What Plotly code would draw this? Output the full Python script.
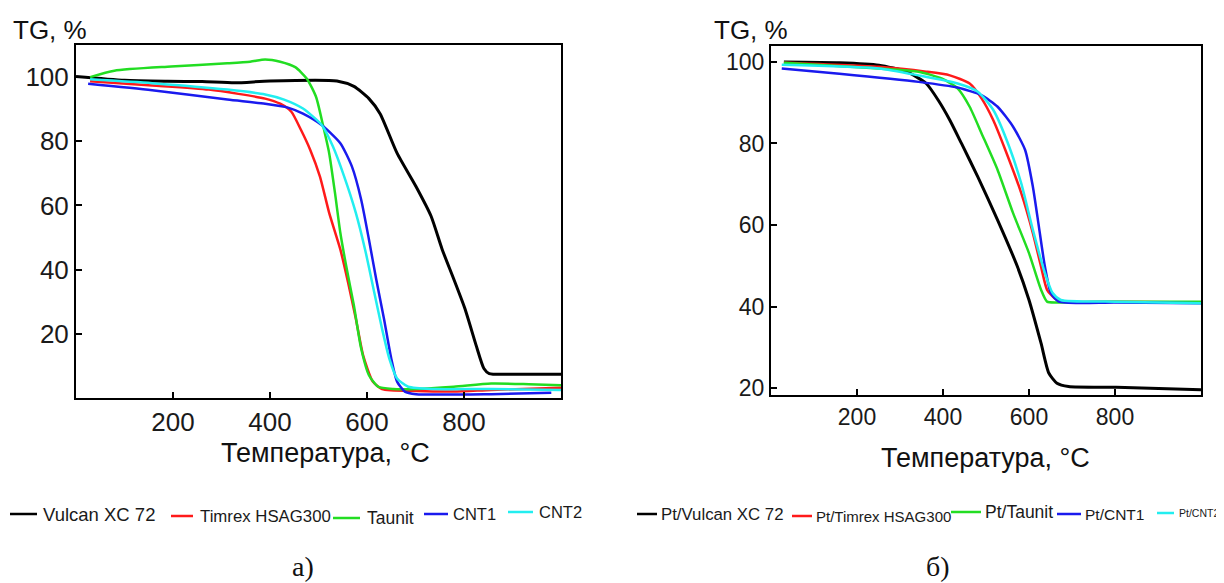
import plotly.graph_objects as go

# ---- panel a): supports ----
t_vulcan = [0, 100, 188, 260, 328, 400, 538, 573, 604, 627, 662, 701, 732, 755, 779, 802, 825, 841, 852, 900, 1000]
tg_vulcan = [100.2, 99.0, 98.7, 98.6, 98.2, 98.8, 98.8, 97.1, 93.3, 88.6, 76.3, 65.9, 56.7, 46.3, 37.0, 27.8, 16.4, 9.2, 7.6, 7.4, 7.4]

t_timrex = [29, 157, 274, 390, 421, 444, 464, 483, 503, 522, 545, 561, 577, 592, 612, 631, 701, 779, 856, 1000]
tg_timrex = [98.7, 97.4, 96.1, 93.3, 91.7, 89.2, 83.5, 77.3, 69.0, 57.7, 46.3, 36.0, 24.7, 13.3, 5.1, 2.8, 2.2, 2.0, 2.5, 3.2]

t_taunit = [29, 79, 196, 312, 359, 390, 421, 452, 476, 495, 510, 522, 534, 545, 557, 573, 588, 604, 623, 654, 701, 779, 856, 934, 1000]
tg_taunit = [100.0, 102.0, 103.3, 104.3, 104.8, 105.5, 104.8, 103.1, 99.5, 93.8, 84.5, 76.3, 63.9, 51.5, 41.2, 28.8, 15.4, 7.1, 3.5, 2.8, 2.8, 3.5, 4.5, 4.3, 4.0]

t_cnt1 = [25, 157, 312, 390, 437, 468, 507, 545, 569, 588, 604, 619, 635, 650, 662, 678, 701, 856, 980]
tg_cnt1 = [97.9, 95.9, 93.0, 91.7, 90.5, 88.6, 85.0, 79.4, 72.1, 61.8, 49.4, 37.0, 24.7, 12.3, 5.1, 2.0, 1.2, 1.2, 1.6]

t_cnt2 = [29, 157, 312, 390, 429, 468, 507, 530, 553, 577, 596, 615, 631, 646, 662, 685, 740, 856, 1000]
tg_cnt2 = [99.3, 98.1, 96.1, 94.6, 93.0, 90.2, 85.0, 78.3, 69.0, 57.7, 46.3, 32.9, 21.6, 12.3, 6.1, 3.5, 2.8, 2.8, 2.5]

# ---- panel б): Pt catalysts ----
t_pt_vulcan = [30, 159, 251, 315, 361, 389, 416, 443, 481, 527, 573, 600, 628, 646, 665, 692, 803, 1000]
tg_pt_vulcan = [100.0, 99.8, 99.2, 97.6, 94.7, 90.6, 85.7, 80.0, 71.8, 61.2, 49.8, 41.6, 31.0, 23.7, 21.2, 20.4, 20.2, 19.6]

t_pt_timrex = [30, 251, 361, 416, 462, 490, 517, 545, 582, 609, 628, 642, 660, 683, 800, 1000]
tg_pt_timrex = [99.8, 98.8, 97.6, 96.7, 94.7, 91.0, 85.7, 78.4, 67.8, 58.0, 49.8, 44.1, 42.0, 41.2, 41.2, 41.0]

t_pt_taunit = [30, 251, 343, 398, 434, 462, 490, 527, 563, 600, 628, 642, 665, 800, 1000]
tg_pt_taunit = [99.8, 98.4, 97.6, 95.9, 93.5, 89.0, 82.4, 73.5, 62.9, 53.1, 44.1, 41.2, 41.0, 41.2, 41.2]

t_pt_cnt1 = [25, 159, 343, 434, 490, 527, 563, 591, 609, 623, 637, 651, 669, 800, 1000]
tg_pt_cnt1 = [98.4, 97.1, 95.1, 93.7, 91.8, 89.0, 84.1, 78.4, 69.4, 59.6, 49.8, 43.3, 41.2, 41.0, 40.8]

t_pt_cnt2 = [25, 251, 343, 434, 481, 517, 554, 582, 609, 637, 655, 674, 800, 1000]
tg_pt_cnt2 = [99.3, 98.4, 96.7, 94.7, 92.7, 88.2, 79.2, 70.2, 58.8, 48.2, 43.3, 41.6, 41.2, 40.8]

names_a = ['Vulcan XC 72', 'Timrex HSAG300', 'Taunit', 'CNT1', 'CNT2']
names_b = ['Pt/Vulcan XC 72', 'Pt/Timrex HSAG300', 'Pt/Taunit', 'Pt/CNT1', 'Pt/CNT2']

x_ticks = [200, 400, 600, 800]
y_ticks = [20, 40, 60, 80, 100]

colors = ['#000000', '#ff1a1a', '#22dd22', '#1a1aee', '#22eef0']

# the page body has an 8px margin, so the figure is drawn 8px in from the top-left corner
OFF = 8
W, H = 1224 - OFF, 583 - OFF


def fx(px):
    return (px - OFF) / W


def fy(py):
    return 1 - (py - OFF) / H


fig = go.Figure()

series_a = [(t_vulcan, tg_vulcan), (t_timrex, tg_timrex), (t_taunit, tg_taunit), (t_cnt1, tg_cnt1), (t_cnt2, tg_cnt2)]
series_b = [(t_pt_vulcan, tg_pt_vulcan), (t_pt_timrex, tg_pt_timrex), (t_pt_taunit, tg_pt_taunit),
            (t_pt_cnt1, tg_pt_cnt1), (t_pt_cnt2, tg_pt_cnt2)]

for i, (x, y) in enumerate(series_a):
    fig.add_trace(go.Scatter(x=x, y=y, name=names_a[i], mode='lines', xaxis='x', yaxis='y', showlegend=False,
                             line=dict(color=colors[i], width=3 if i == 0 else 2.5, shape='spline', smoothing=0.6)))
for i, (x, y) in enumerate(series_b):
    fig.add_trace(go.Scatter(x=x, y=y, name=names_b[i], mode='lines', xaxis='x2', yaxis='y2', showlegend=False,
                             line=dict(color=colors[i], width=3 if i == 0 else 2.5, shape='spline', smoothing=0.6)))


def axis(size, **kw):
    return dict(showline=True, linecolor='black', linewidth=2, mirror=True,
                ticks='inside', ticklen=6, tickwidth=1.5, tickcolor='black',
                showgrid=False, zeroline=False,
                tickfont=dict(family='Liberation Sans', size=size, color='#1a1a1a'), **kw)


fig.update_layout(
    width=W, height=H,
    margin=dict(l=0, r=0, t=0, b=0, autoexpand=False),
    paper_bgcolor='white', plot_bgcolor='white',
    font=dict(family='Liberation Sans', color='#1a1a1a'),
    xaxis=axis(26, domain=[fx(76), fx(561)], range=[0, 1000], tickvals=x_ticks, anchor='y'),
    yaxis=axis(26, domain=[fy(398), fy(45)], range=[0, 110], tickvals=y_ticks, anchor='x'),
    xaxis2=axis(23, domain=[fx(771), fx(1201)], range=[0, 1000], tickvals=x_ticks, anchor='y2'),
    yaxis2=axis(23, domain=[fy(395), fy(46)], range=[18.3, 103.9], tickvals=y_ticks, anchor='x2'),
)

# hand-placed legends: (line start, line end, text start, y, font size) in pixels
legend_a = [(10, 37, 41, 514, 18.5), (171, 193, 198, 516, 16.8), (333, 360, 365, 518, 17.5),
            (424, 448, 451, 514, 16.5), (508, 533, 537, 512, 16.5)]
legend_b = [(637, 657, 659, 514, 16.8), (792, 812, 814, 516, 15), (951, 981, 983, 512, 17.5),
            (1057, 1081, 1083, 514, 15.5), (1157, 1174, 1177, 513, 10.5)]

shapes = []
anns = []
for names, spec in ((names_a, legend_a), (names_b, legend_b)):
    for i, (x0, x1, xt, y, fs) in enumerate(spec):
        shapes.append(dict(type='line', xref='paper', yref='paper', x0=fx(x0), x1=fx(x1),
                           y0=fy(y), y1=fy(y), line=dict(color=colors[i], width=2.5)))
        anns.append(dict(text=names[i], x=fx(xt), y=fy(y), xref='paper', yref='paper', showarrow=False,
                         xanchor='left', yanchor='middle', font=dict(size=fs, color='#1a1a1a')))

labels = [('TG, %', 11, 30, 'left', 'Liberation Sans', 26),
          ('TG, %', 712, 30, 'left', 'Liberation Sans', 26),
          ('Температура, °C', 325, 453, 'center', 'Liberation Sans', 27),
          ('Температура, °C', 985, 458, 'center', 'Liberation Sans', 27),
          ('а)', 303, 566, 'center', 'Liberation Serif', 28),
          ('б)', 938, 566, 'center', 'Liberation Serif', 28)]
for text, px, py, xa, fam, fs in labels:
    anns.append(dict(text=text, x=fx(px), y=fy(py), xref='paper', yref='paper', showarrow=False,
                     xanchor=xa, yanchor='middle', font=dict(family=fam, size=fs, color='#111111')))

fig.update_layout(shapes=shapes, annotations=anns)

fig.write_html("out.html")
